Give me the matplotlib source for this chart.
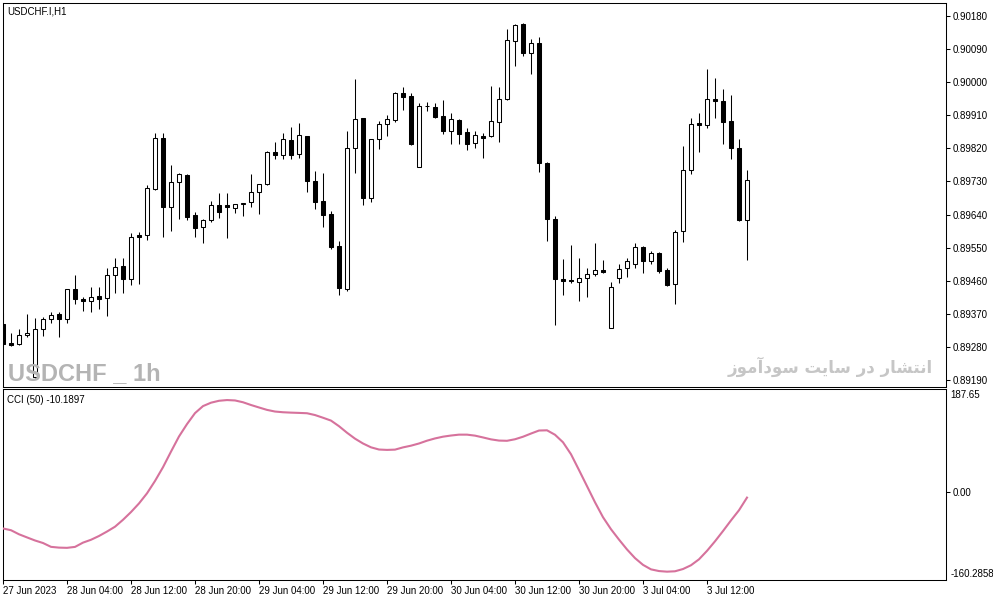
import matplotlib
matplotlib.use("Agg")
import matplotlib.pyplot as plt
import numpy as np

plt.rcParams['font.family'] = ['Liberation Sans', 'DejaVu Sans']

# ---------------- data ----------------
chart_title = "USDCHF.I,H1"

opens = [0.89343, 0.89290, 0.89288, 0.89313, 0.89200, 0.89328, 0.89355, 0.89370, 0.89355, 0.89437,
         0.89411, 0.89404, 0.89419, 0.89412, 0.89475, 0.89500, 0.89464, 0.89584, 0.89584, 0.89709,
         0.89848, 0.89661, 0.89728, 0.89747, 0.89639, 0.89605, 0.89625, 0.89666, 0.89666, 0.89658,
         0.89669, 0.89673, 0.89700, 0.89722, 0.89809, 0.89802, 0.89842, 0.89805, 0.89852, 0.89730,
         0.89676, 0.89641, 0.89554, 0.89439, 0.89820, 0.89901, 0.89686, 0.89844, 0.89885, 0.89898,
         0.89969, 0.89961, 0.89770, 0.89934, 0.89931, 0.89907, 0.89868, 0.89896, 0.89864, 0.89833,
         0.89852, 0.89852, 0.89890, 0.89953, 0.90110, 0.90157, 0.90078, 0.90105, 0.89779, 0.89627,
         0.89464, 0.89461, 0.89458, 0.89467, 0.89478, 0.89489, 0.89331, 0.89467, 0.89494, 0.89505,
         0.89551, 0.89513, 0.89535, 0.89488, 0.89452, 0.89594, 0.89760, 0.89888, 0.89882, 0.89953,
         0.89948, 0.89893, 0.89822, 0.89624]
highs = [0.89373, 0.89318, 0.89329, 0.89370, 0.89359, 0.89363, 0.89375, 0.89375, 0.89439, 0.89477,
         0.89417, 0.89442, 0.89442, 0.89495, 0.89522, 0.89522, 0.89591, 0.89593, 0.89719, 0.89862,
         0.89862, 0.89775, 0.89754, 0.89750, 0.89647, 0.89628, 0.89678, 0.89698, 0.89698, 0.89669,
         0.89672, 0.89750, 0.89723, 0.89812, 0.89836, 0.89861, 0.89877, 0.89888, 0.89853, 0.89757,
         0.89752, 0.89649, 0.89567, 0.89867, 0.90008, 0.89902, 0.89845, 0.89894, 0.89910, 0.89972,
         0.89986, 0.89969, 0.89942, 0.89945, 0.89942, 0.89950, 0.89915, 0.89899, 0.89874, 0.89867,
         0.89861, 0.89989, 0.89986, 0.90143, 0.90157, 0.90159, 0.90116, 0.90121, 0.89783, 0.89636,
         0.89519, 0.89557, 0.89523, 0.89494, 0.89562, 0.89517, 0.89456, 0.89505, 0.89521, 0.89562,
         0.89555, 0.89541, 0.89537, 0.89494, 0.89597, 0.89827, 0.89901, 0.89915, 0.90034, 0.90010,
         0.89980, 0.89964, 0.89844, 0.89760]
lows = [0.89283, 0.89283, 0.89286, 0.89307, 0.89196, 0.89310, 0.89346, 0.89308, 0.89346, 0.89397,
        0.89379, 0.89375, 0.89384, 0.89364, 0.89428, 0.89426, 0.89449, 0.89451, 0.89571, 0.89707,
        0.89580, 0.89596, 0.89628, 0.89625, 0.89580, 0.89562, 0.89620, 0.89630, 0.89575, 0.89643,
        0.89636, 0.89661, 0.89641, 0.89721, 0.89792, 0.89792, 0.89790, 0.89794, 0.89702, 0.89656,
        0.89607, 0.89547, 0.89422, 0.89431, 0.89754, 0.89667, 0.89675, 0.89819, 0.89853, 0.89892,
        0.89924, 0.89829, 0.89768, 0.89922, 0.89903, 0.89860, 0.89832, 0.89832, 0.89815, 0.89822,
        0.89794, 0.89850, 0.89838, 0.89951, 0.90044, 0.90071, 0.90022, 0.89756, 0.89569, 0.89340,
        0.89422, 0.89455, 0.89406, 0.89417, 0.89473, 0.89482, 0.89331, 0.89455, 0.89471, 0.89494,
        0.89480, 0.89505, 0.89482, 0.89447, 0.89396, 0.89566, 0.89749, 0.89811, 0.89874, 0.89901,
        0.89832, 0.89792, 0.89622, 0.89517]
closes = [0.89288, 0.89287, 0.89313, 0.89318, 0.89328, 0.89355, 0.89367, 0.89355, 0.89437, 0.89410,
          0.89406, 0.89417, 0.89411, 0.89477, 0.89498, 0.89464, 0.89580, 0.89580, 0.89712, 0.89848,
          0.89661, 0.89729, 0.89750, 0.89634, 0.89603, 0.89625, 0.89666, 0.89648, 0.89661, 0.89669,
          0.89671, 0.89702, 0.89722, 0.89809, 0.89802, 0.89844, 0.89802, 0.89855, 0.89732, 0.89674,
          0.89640, 0.89553, 0.89441, 0.89820, 0.89899, 0.89685, 0.89844, 0.89885, 0.89899, 0.89969,
          0.89960, 0.89832, 0.89934, 0.89935, 0.89906, 0.89866, 0.89899, 0.89859, 0.89832, 0.89855,
          0.89849, 0.89893, 0.89953, 0.90113, 0.90155, 0.90078, 0.90107, 0.89779, 0.89627, 0.89464,
          0.89460, 0.89460, 0.89467, 0.89478, 0.89488, 0.89485, 0.89442, 0.89491, 0.89513, 0.89551,
          0.89513, 0.89535, 0.89487, 0.89449, 0.89592, 0.89760, 0.89885, 0.89882, 0.89953, 0.89948,
          0.89892, 0.89822, 0.89624, 0.89733]

cci_label = "CCI (50) -10.1897"
cci_values = [-66.4, -69.6, -77.0, -82.7, -88.3, -92.9, -99.9, -101.3, -101.7, -100.0,
              -92.2, -87.0, -80.1, -72.0, -63.2, -50.6, -36.5, -20.8, -2.4, 20.1,
              45.2, 73.6, 101.2, 123.7, 143.7, 156.5, 162.7, 166.2, 167.5, 166.8,
              163.5, 158.5, 154.0, 149.6, 146.6, 145.3, 144.6, 144.1, 143.5, 140.2,
              135.3, 130.1, 119.9, 108.0, 97.2, 88.4, 81.4, 77.4, 76.7, 77.2,
              81.3, 84.4, 88.4, 93.5, 97.6, 100.8, 102.9, 104.5, 104.5, 102.7,
              99.4, 95.9, 93.7, 93.3, 96.1, 100.7, 106.5, 112.0, 112.4, 104.3,
              90.6, 68.8, 40.0, 10.7, -18.7, -45.9, -67.8, -86.7, -104.6, -120.4,
              -132.7, -140.9, -144.0, -145.1, -144.4, -140.3, -133.4, -122.6, -107.2, -89.8,
              -71.1, -51.7, -33.2, -10.19]
cci_max = 187.65
cci_min = -160.2858
cci_zero_label = "0.00"
cci_max_label = "187.65"
cci_min_label = "-160.2858"

price_ticks = [0.90180, 0.90090, 0.90000, 0.89910, 0.89820, 0.89730,
               0.89640, 0.89550, 0.89460, 0.89370, 0.89280, 0.89190]
price_tick_labels = ["0.90180", "0.90090", "0.90000", "0.89910", "0.89820", "0.89730",
                     "0.89640", "0.89550", "0.89460", "0.89370", "0.89280", "0.89190"]

time_tick_bars = [0, 8, 16, 24, 32, 40, 48, 56, 64, 72, 80, 88]
time_tick_labels = ["27 Jun 2023", "28 Jun 04:00", "28 Jun 12:00", "28 Jun 20:00",
                    "29 Jun 04:00", "29 Jun 12:00", "29 Jun 20:00", "30 Jun 04:00",
                    "30 Jun 12:00", "30 Jun 20:00", "3 Jul 04:00", "3 Jul 12:00"]

watermark_symbol = "USDCHF _ 1h"
# Persian "انتشار در سایت سودآموز" written with presentation forms in visual order
watermark_site = ("\uFEAF\uFEEE\uFEE3\uFE81\uFEA9\uFEEE\uFEB3 "
                  "\uFE96\uFBFE\uFE8E\uFEB3 "
                  "\uFEAD\uFEA9 "
                  "\uFEAD\uFE8E\uFEB8\uFE98\uFEE7\uFE8D")

# ---------------- layout ----------------
W, H = 993, 601
fig = plt.figure(figsize=(W / 100, H / 100), dpi=100)
fig.patch.set_facecolor('white')


def fx(px):
    return px / W


def fy(py):
    return 1 - py / H


left_px, right_px = 2.5, 946.0
ax = fig.add_axes([fx(left_px), fy(386.7), fx(right_px) - fx(left_px), fy(2.5) - fy(386.7)])
cx = fig.add_axes([fx(left_px), fy(580.0), fx(right_px) - fx(left_px), fy(389.0) - fy(580.0)])

n = len(opens)
idx = np.arange(n)
o = np.array(opens)
h = np.array(highs)
l = np.array(lows)
c = np.array(closes)
up = c >= o

lw_px = 0.75
ax.vlines(idx, l, h, color='black', linewidth=lw_px, zorder=2)
ax.bar(idx, np.abs(c - o), bottom=np.minimum(o, c), width=0.5,
       color=np.where(up, 'white', 'black'), edgecolor='black',
       linewidth=lw_px, zorder=3)

xlim = (-0.0625, 117.875)
ax.set_xlim(*xlim)
ax.set_ylim(0.891724, 0.902158)
ax.set_xticks([])
ax.yaxis.tick_right()
ax.set_yticks(price_ticks)
ax.set_yticklabels(price_tick_labels)
ax.tick_params(axis='y', direction='out', length=3, width=0.75, pad=1.5,
               labelsize=7, colors='black')

ax.text(0.005, 0.977, chart_title, transform=ax.transAxes, fontsize=7,
        ha='left', va='center', color='black')

fig.text(fx(8), fy(380), watermark_symbol, fontsize=17, fontweight='bold',
         family=['Liberation Sans', 'DejaVu Sans'],
         color='#b4b4b4', ha='left', va='baseline')
fig.text(fx(933), fy(367), watermark_site, fontsize=12, fontweight='bold',
         family=['DejaVu Sans'], color='#c6c6c6', ha='right', va='center')

# ---------------- CCI panel ----------------
cx.plot(idx, cci_values, color='#d6729c', linewidth=1.5, zorder=3)
cx.set_xlim(*xlim)
cx.set_ylim(cci_min, cci_max)
cx.yaxis.tick_right()
cx.set_yticks([0])
cx.set_yticklabels([cci_zero_label])
cx.tick_params(axis='y', direction='out', length=3, width=0.75, pad=1.5,
               labelsize=7, colors='black')
cx.set_xticks(time_tick_bars)
cx.set_xticklabels(time_tick_labels)
for lab in cx.get_xticklabels():
    lab.set_horizontalalignment('left')
cx.tick_params(axis='x', direction='out', length=3, width=0.75, pad=1.0,
               labelsize=7, colors='black')

cx.annotate(cci_max_label, xy=(1, 1), xycoords='axes fraction', xytext=(3, -1),
            textcoords='offset points', ha='left', va='top', fontsize=7)
cx.annotate(cci_min_label, xy=(1, 0), xycoords='axes fraction', xytext=(3, 1),
            textcoords='offset points', ha='left', va='bottom', fontsize=7)
cx.text(0.005, 0.94, cci_label, transform=cx.transAxes, fontsize=7,
        ha='left', va='center', color='black')

for a in (ax, cx):
    for s in a.spines.values():
        s.set_linewidth(0.75)
        s.set_color('black')

fig.savefig('out.png', dpi=100, facecolor='white')
